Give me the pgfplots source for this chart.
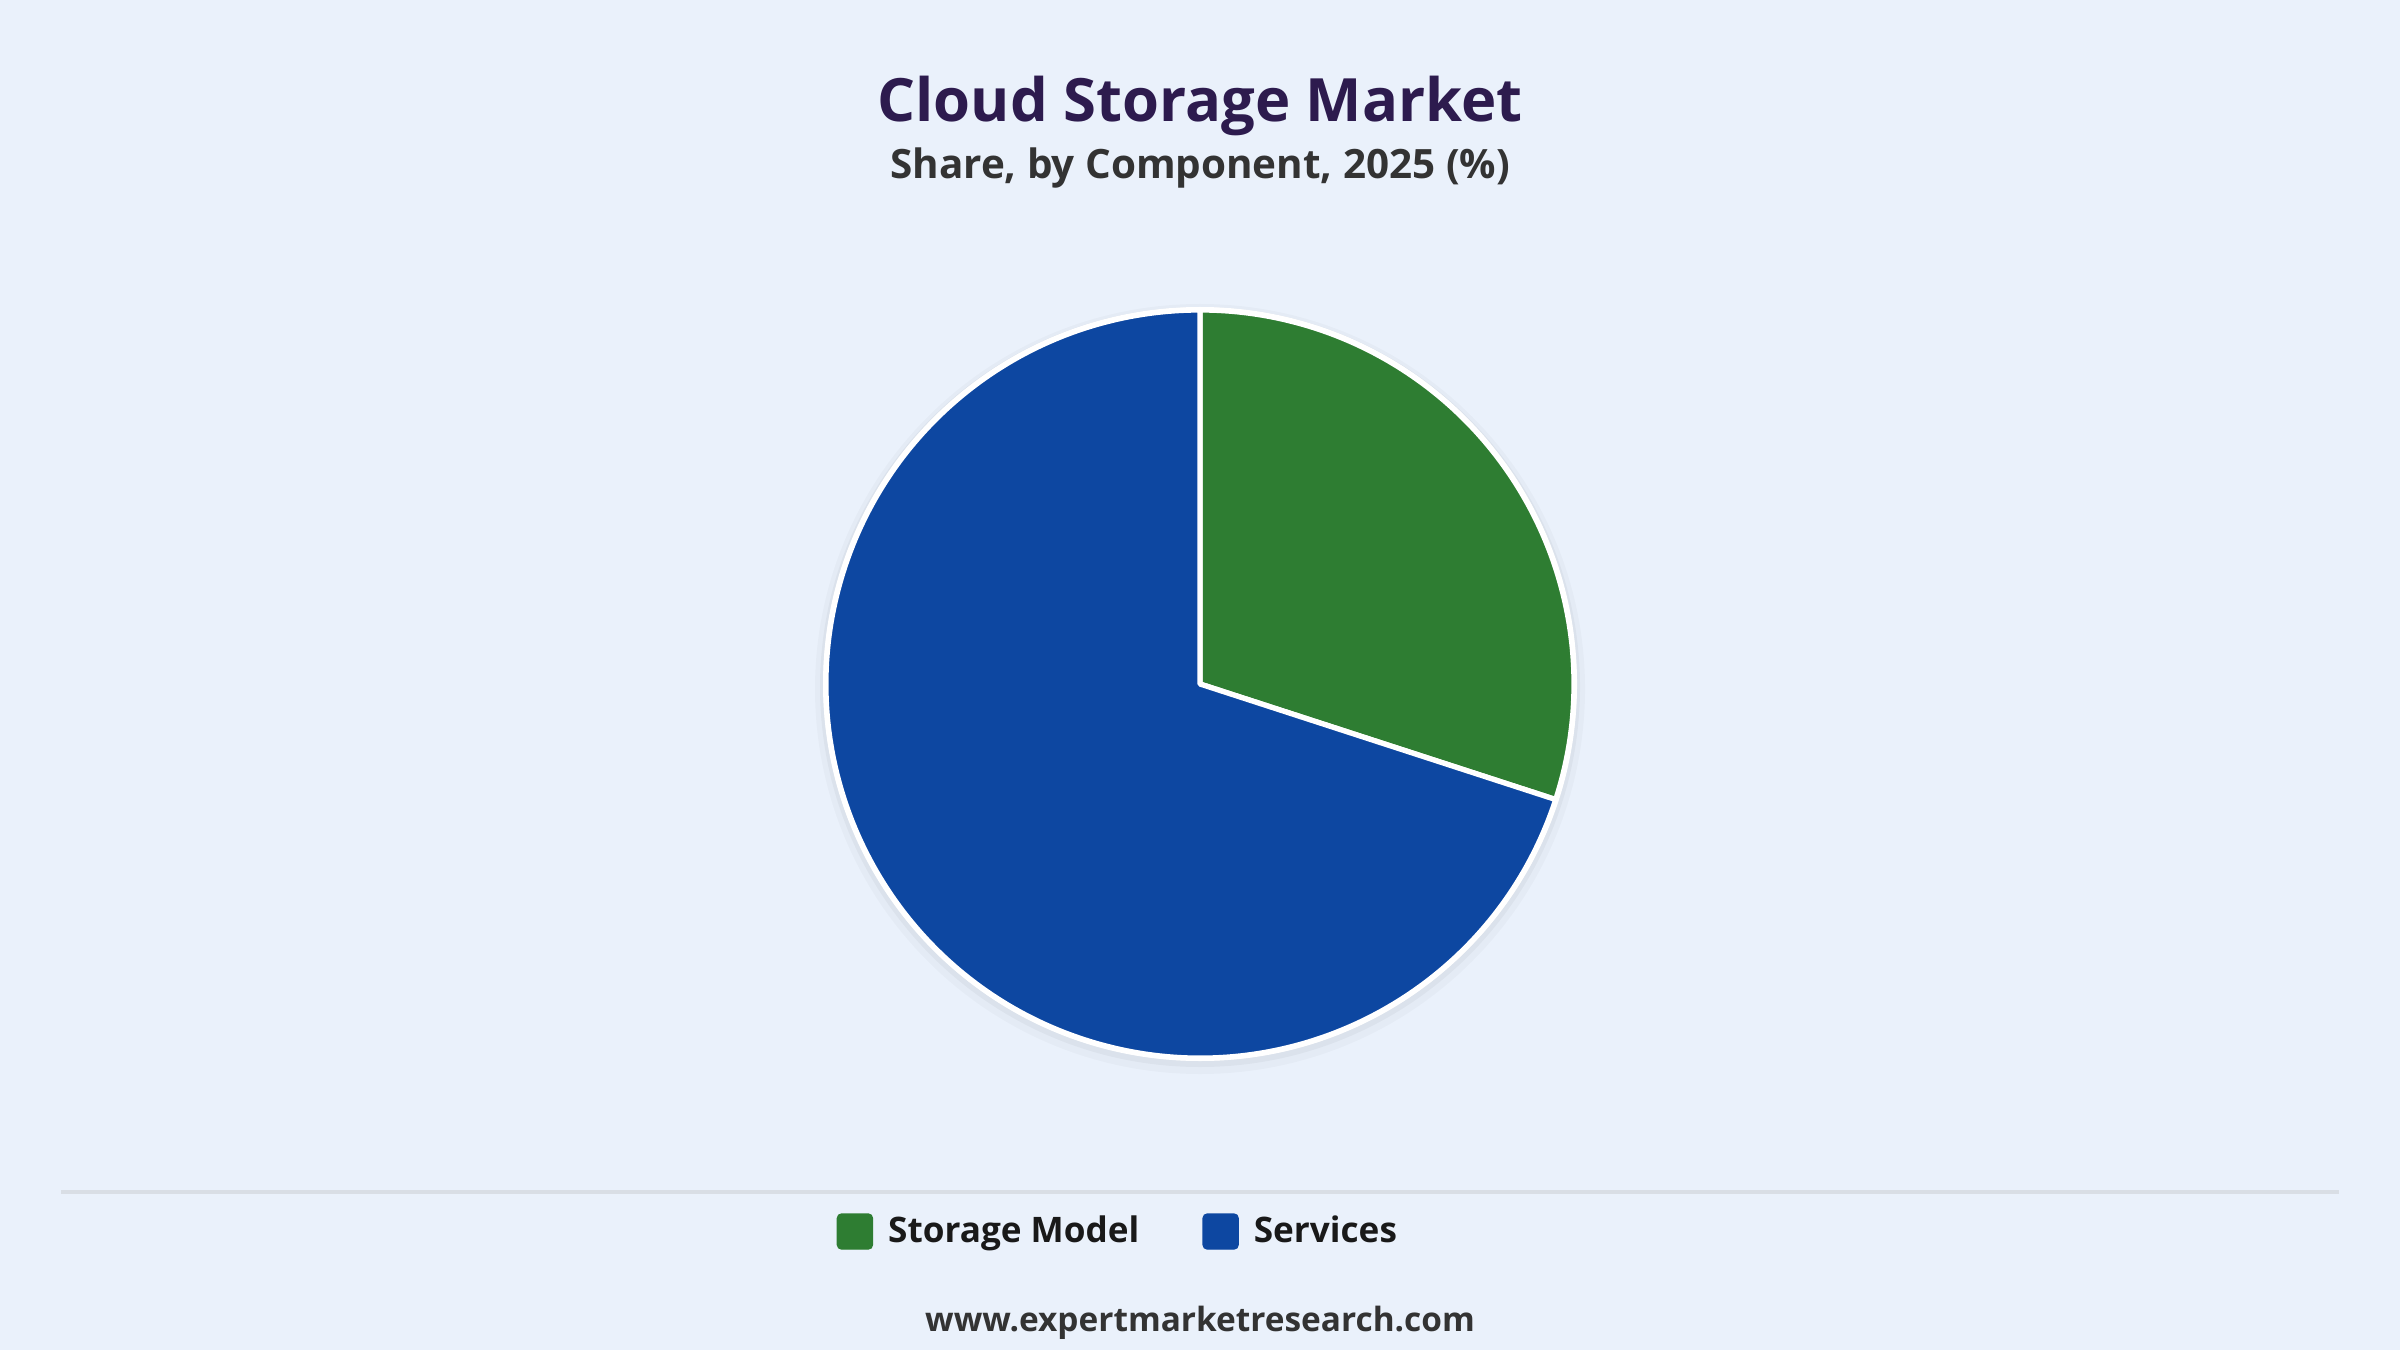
\documentclass[border=0pt]{standalone}
\usepackage{pgfplots}
\pgfplotsset{compat=1.18}
\usepackage{pgfplotstable}
\usepackage{fontspec}
\setmainfont{Open Sans}

\definecolor{bgcol}{HTML}{EAF1FB}
\definecolor{storagecol}{HTML}{2E7D32}
\definecolor{servicescol}{HTML}{0D47A1}
\definecolor{titlecol}{HTML}{2D1B4E}
\definecolor{subcol}{HTML}{333333}
\definecolor{rulecol}{HTML}{D9DEE5}

% share by component, 2025 (%)
\pgfplotstableread{
component share
Storage 30
Services 70
}\sharetable

\begin{document}
\begin{tikzpicture}
\pgfplotstablegetelem{0}{share}\of\sharetable \let\shareA\pgfplotsretval
\pgfplotstablegetelem{1}{share}\of\sharetable \let\shareB\pgfplotsretval
\pgfmathsetmacro{\angA}{90-3.6*\shareA}
\pgfmathsetmacro{\angB}{\angA-3.6*\shareB}
\def\R{3.74}

\fill[bgcol] (0,0) rectangle (24,13.5);

\begin{axis}[
  at={(0,0)}, anchor=south west,
  x=1cm, y=1cm, scale only axis,
  xmin=-12, xmax=12, ymin=-6.66, ymax=6.84,
  hide axis, clip=false,
  legend columns=2,
  legend style={draw=none, fill=none, inner sep=0pt, at={(axis cs:-3.64,-5.48)}, anchor=west,
    font=\fontsize{10}{12}\selectfont\bfseries, text=black!90,
    /tikz/every even column/.append style={column sep=0.56cm}},
  legend image code/.code={\fill[#1, rounded corners=1.2pt] (0cm,-0.17cm) rectangle (0.35cm,0.18cm);
    \path (0.43cm,0);},
]
  % soft shadow
  \fill[black, opacity=0.025] (axis cs:0,-0.05) circle[radius=3.85cm];
  \fill[black, opacity=0.035] (axis cs:0,-0.03) circle[radius=3.80cm];
  \fill[white] (axis cs:0,0) circle[radius=3.77cm];
  % wedges
  \fill[storagecol, draw=white, line width=1.5pt, line join=round]
    (axis cs:0,0) -- ++(90:\R cm) arc[start angle=90, end angle=\angA, radius=\R cm] -- cycle;
  \fill[servicescol, draw=white, line width=1.5pt, line join=round]
    (axis cs:0,0) -- ++(\angA:\R cm) arc[start angle=\angA, end angle=\angB, radius=\R cm] -- cycle;

  \addlegendimage{storagecol}
  \addlegendentry{Storage Model}
  \addlegendimage{servicescol}
  \addlegendentry{Services}

  \node[text=titlecol, font=\fontsize{17}{20}\selectfont\bfseries] at (axis cs:0,5.78) {Cloud Storage Market};
  \node[text=subcol, font=\fontsize{11.5}{14}\selectfont\bfseries] at (axis cs:0,5.155) {Share, by Component, 2025 (\%)};
  \draw[rulecol, line width=1pt] (axis cs:-11.39,-5.08) -- (axis cs:11.39,-5.08);
  \node[text=subcol, font=\fontsize{9.5}{12}\selectfont\bfseries] at (axis cs:0,-6.39) {www.expertmarketresearch.com};
\end{axis}
\end{tikzpicture}
\end{document}
